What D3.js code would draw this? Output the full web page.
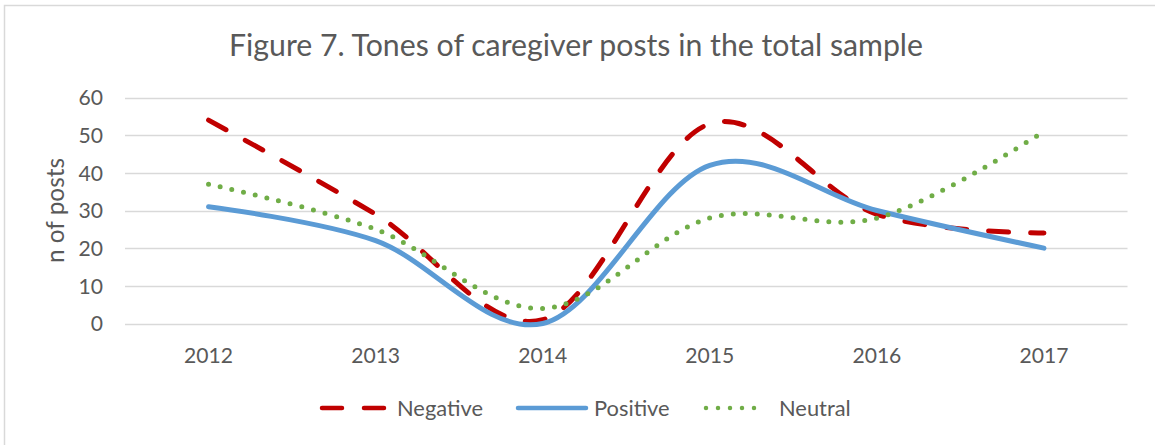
<!DOCTYPE html>
<html><head><meta charset="utf-8">
<script src="https://cdn.jsdelivr.net/npm/d3@7"></script>
<style>
html,body{margin:0;padding:0;background:#fff;}
svg{display:block;}
text{font-family:Lato,"Open Sans",sans-serif;fill:#595959;}
</style></head>
<body>
<svg id="chart" width="1155" height="445"></svg>
<script>
const years = ["2012","2013","2014","2015","2016","2017"];
const negative = [54, 29, 1, 53, 29, 24];
const positive = [31, 22, 0, 42, 30, 20];
const neutral  = [37, 25, 4, 28, 28, 51];
const yTicks = [0, 10, 20, 30, 40, 50, 60];
const title = "Figure 7. Tones of caregiver posts in the total sample";
const yLabel = "n of posts";

const series = [
  {name:"Negative", values:negative, color:"#C00000", dash:"20 22", legendX:320, legendW:66, textX:397},
  {name:"Positive", values:positive, color:"#5B9BD5", dash:null, legendX:516, legendW:72, textX:594},
  {name:"Neutral",  values:neutral,  color:"#70AD47", dash:"0 12", legendX:704, legendW:62, textX:779}
];

const svg = d3.select("#chart");
svg.append("rect").attr("x",0).attr("y",0).attr("width",1155).attr("height",445).attr("fill","#fff");
svg.append("rect").attr("x",4.5).attr("y",5.5).attr("width",1200).attr("height",500)
  .attr("fill","none").attr("stroke","#D9D9D9").attr("stroke-width",1.5);

function fit(sel, target){
  const w = sel.node().getComputedTextLength();
  const fs = parseFloat(sel.attr("font-size"));
  sel.attr("font-size", fs*target/w);
  return fs*target/w;
}

const x = d3.scaleBand().domain(years).range([125, 1127.5]);
const xc = d => x(d) + x.bandwidth()/2;
const y = d3.scaleLinear().domain([0,60]).range([323.5, 97.5]);

// gridlines
svg.append("g").selectAll("line").data(yTicks).join("line")
  .attr("x1",125).attr("x2",1127.5)
  .attr("y1",d=>Math.round(y(d))+0.5).attr("y2",d=>Math.round(y(d))+0.5)
  .attr("stroke","#D9D9D9").attr("stroke-width",1.3);

// y axis labels
const yAxis = d3.axisLeft(y).tickValues(yTicks).tickSize(0).tickPadding(0);
const gy = svg.append("g").attr("transform","translate(103,0)").call(yAxis);
gy.select(".domain").remove();
gy.selectAll("text").attr("font-size",20).attr("fill","#595959").attr("font-family","Lato, sans-serif");

// x axis labels
const xAxis = d3.axisBottom(x).tickSize(0).tickPadding(0);
const gx = svg.append("g").attr("transform","translate(0,344)").call(xAxis);
gx.select(".domain").remove();
gx.selectAll("text").attr("font-size",20).attr("fill","#595959").attr("font-family","Lato, sans-serif");

const t0 = gx.select("text");
const wt = t0.node().getComputedTextLength();
const tickFs = 20*49/wt;
gx.selectAll("text").attr("font-size",tickFs).attr("dy",null).attr("y",19);
gy.selectAll("text").attr("font-size",tickFs).attr("dy","0.35em");

// y label
const yl = svg.append("text").attr("transform","translate(64,210.5) rotate(-90)")
  .attr("text-anchor","middle").attr("font-size",20).text(yLabel);
fit(yl, 105);

// title
const tt = svg.append("text").attr("x",576).attr("y",56).attr("text-anchor","middle")
  .attr("font-size",26).text(title);
fit(tt, 694);

// lines
const line = d3.line().x((d,i)=>xc(years[i])).y(d=>y(d)).curve(d3.curveCatmullRom.alpha(0));
series.forEach(s=>{
  svg.append("path").datum(s.values).attr("d",line)
    .attr("fill","none").attr("stroke",s.color).attr("stroke-width",5)
    .attr("stroke-linecap","round").attr("stroke-linejoin","round")
    .attr("stroke-dasharray",s.dash);
});

// legend
const lg = svg.append("g");
const legTexts = [];
series.forEach(s=>{
  lg.append("line").attr("x1",s.legendX+2).attr("x2",s.legendX+s.legendW-2)
    .attr("y1",408).attr("y2",408).attr("stroke",s.color).attr("stroke-width",4.5)
    .attr("stroke-linecap","round").attr("stroke-dasharray",s.dash);
  legTexts.push(lg.append("text").attr("x",s.textX).attr("y",415.5).attr("font-size",20).text(s.name));
});
const legFs = fit(legTexts[0], 86);
legTexts.forEach(t=>t.attr("font-size",legFs));
</script>
</body></html>
